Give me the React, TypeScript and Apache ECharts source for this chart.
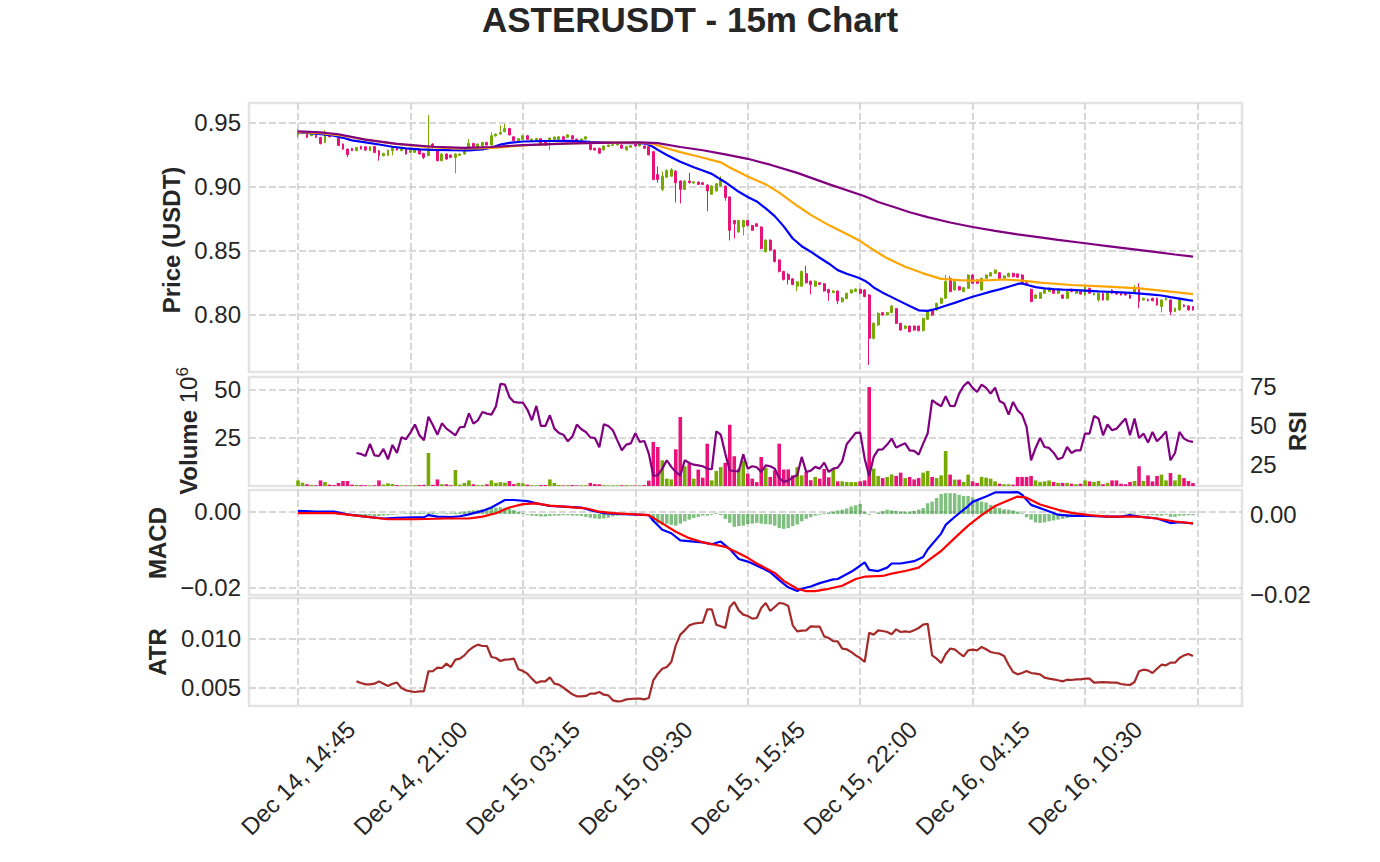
import React, { useEffect, useRef } from 'react';
import * as echarts from 'echarts';

const titleText = 'ASTERUSDT - 15m Chart';
const tickBars = [0, 25, 50, 75, 100, 125, 150, 175, 200];
const labelBars = [0, 25, 50, 75, 100, 125, 150, 175];
const tickLabels = ['Dec 14, 14:45', 'Dec 14, 21:00', 'Dec 15, 03:15', 'Dec 15, 09:30', 'Dec 15, 15:45', 'Dec 15, 22:00', 'Dec 16, 04:15', 'Dec 16, 10:30'];
const priceTicks = [0.8, 0.85, 0.9, 0.95];
const volTicks = [25, 50];
const rsiTicks = [25, 50, 75];
const macdTicks = [-0.02, 0];
const histTicks = [-0.02, 0];
const atrTicks = [0.005, 0.01];

// [open, high, low, close] per 15m bar
const ohlc = [
  [0.9405, 0.9450, 0.9386, 0.9432], [0.9418, 0.9438, 0.9410, 0.9431], [0.9411, 0.9415, 0.9380, 0.9385], [0.9398, 0.9416, 0.9395, 0.9411],
  [0.9403, 0.9408, 0.9380, 0.9385], [0.9385, 0.9390, 0.9330, 0.9338], [0.9346, 0.9442, 0.9340, 0.9411], [0.9411, 0.9415, 0.9385, 0.9390],
  [0.9411, 0.9414, 0.9395, 0.9398], [0.9380, 0.9385, 0.9318, 0.9322], [0.9333, 0.9338, 0.9288, 0.9294], [0.9294, 0.9298, 0.9230, 0.9250],
  [0.9299, 0.9302, 0.9278, 0.9281], [0.9281, 0.9310, 0.9278, 0.9307], [0.9315, 0.9320, 0.9290, 0.9294], [0.9312, 0.9315, 0.9280, 0.9286],
  [0.9281, 0.9315, 0.9278, 0.9312], [0.9315, 0.9318, 0.9262, 0.9268], [0.9281, 0.9285, 0.9203, 0.9242], [0.9242, 0.9265, 0.9238, 0.9260],
  [0.9245, 0.9290, 0.9240, 0.9286], [0.9281, 0.9312, 0.9245, 0.9307], [0.9307, 0.9310, 0.9282, 0.9286], [0.9281, 0.9298, 0.9278, 0.9294],
  [0.9294, 0.9298, 0.9250, 0.9255], [0.9268, 0.9290, 0.9265, 0.9286], [0.9268, 0.9298, 0.9265, 0.9294], [0.9294, 0.9298, 0.9250, 0.9255],
  [0.9260, 0.9265, 0.9216, 0.9229], [0.9242, 0.9560, 0.9240, 0.9294], [0.9333, 0.9340, 0.9300, 0.9307], [0.9281, 0.9290, 0.9198, 0.9203],
  [0.9203, 0.9262, 0.9198, 0.9255], [0.9255, 0.9262, 0.9210, 0.9216], [0.9247, 0.9250, 0.9225, 0.9229], [0.9229, 0.9262, 0.9104, 0.9255],
  [0.9245, 0.9260, 0.9240, 0.9255], [0.9255, 0.9290, 0.9250, 0.9286], [0.9300, 0.9372, 0.9295, 0.9338], [0.9338, 0.9342, 0.9308, 0.9312],
  [0.9312, 0.9338, 0.9308, 0.9333], [0.9320, 0.9350, 0.9316, 0.9346], [0.9346, 0.9350, 0.9320, 0.9325], [0.9325, 0.9424, 0.9320, 0.9398],
  [0.9398, 0.9415, 0.9390, 0.9411], [0.9411, 0.9480, 0.9408, 0.9424], [0.9430, 0.9490, 0.9425, 0.9455], [0.9455, 0.9460, 0.9400, 0.9405],
  [0.9390, 0.9395, 0.9355, 0.9360], [0.9360, 0.9380, 0.9355, 0.9375], [0.9370, 0.9405, 0.9365, 0.9398], [0.9398, 0.9402, 0.9365, 0.9370],
  [0.9360, 0.9378, 0.9355, 0.9372], [0.9362, 0.9382, 0.9358, 0.9377], [0.9375, 0.9380, 0.9318, 0.9323], [0.9349, 0.9352, 0.9318, 0.9323],
  [0.9362, 0.9385, 0.9285, 0.9380], [0.9370, 0.9392, 0.9365, 0.9388], [0.9370, 0.9395, 0.9365, 0.9390], [0.9390, 0.9398, 0.9365, 0.9370],
  [0.9385, 0.9410, 0.9380, 0.9405], [0.9398, 0.9402, 0.9368, 0.9372], [0.9372, 0.9375, 0.9355, 0.9359], [0.9362, 0.9378, 0.9358, 0.9372],
  [0.9372, 0.9395, 0.9368, 0.9390], [0.9330, 0.9336, 0.9285, 0.9290], [0.9300, 0.9305, 0.9282, 0.9287], [0.9300, 0.9305, 0.9255, 0.9262],
  [0.9287, 0.9322, 0.9282, 0.9318], [0.9313, 0.9330, 0.9310, 0.9326], [0.9322, 0.9333, 0.9318, 0.9328], [0.9326, 0.9340, 0.9322, 0.9335],
  [0.9326, 0.9330, 0.9296, 0.9300], [0.9287, 0.9318, 0.9282, 0.9313], [0.9308, 0.9325, 0.9305, 0.9321], [0.9330, 0.9335, 0.9312, 0.9318],
  [0.9318, 0.9336, 0.9315, 0.9332], [0.9318, 0.9322, 0.9296, 0.9300], [0.9313, 0.9318, 0.9245, 0.9249], [0.9274, 0.9280, 0.9050, 0.9056],
  [0.9095, 0.9159, 0.9031, 0.9056], [0.8979, 0.9120, 0.8966, 0.9082], [0.9074, 0.9135, 0.9070, 0.9126], [0.9082, 0.9145, 0.9078, 0.9133],
  [0.9121, 0.9130, 0.8877, 0.9031], [0.9044, 0.9050, 0.8869, 0.8979], [0.8979, 0.9050, 0.8975, 0.9044], [0.9044, 0.9108, 0.9025, 0.9031],
  [0.9028, 0.9042, 0.9022, 0.9038], [0.9036, 0.9040, 0.9014, 0.9018], [0.9031, 0.9035, 0.9014, 0.9018], [0.9013, 0.9018, 0.8808, 0.8967],
  [0.8941, 0.9010, 0.8935, 0.9005], [0.8967, 0.9028, 0.8962, 0.9023], [0.9005, 0.9082, 0.9000, 0.9049], [0.9005, 0.9010, 0.8890, 0.8915],
  [0.8920, 0.8925, 0.8580, 0.8659], [0.8736, 0.8740, 0.8595, 0.8710], [0.8646, 0.8740, 0.8640, 0.8736], [0.8685, 0.8742, 0.8620, 0.8736],
  [0.8736, 0.8740, 0.8690, 0.8697], [0.8697, 0.8702, 0.8655, 0.8659], [0.8710, 0.8715, 0.8685, 0.8690], [0.8685, 0.8690, 0.8510, 0.8518],
  [0.8492, 0.8590, 0.8485, 0.8582], [0.8582, 0.8588, 0.8498, 0.8505], [0.8505, 0.8510, 0.8408, 0.8415], [0.8428, 0.8432, 0.8330, 0.8338],
  [0.8338, 0.8342, 0.8268, 0.8274], [0.8313, 0.8326, 0.8236, 0.8274], [0.8280, 0.8284, 0.8230, 0.8236], [0.8223, 0.8262, 0.8184, 0.8256],
  [0.8223, 0.8345, 0.8218, 0.8338], [0.8320, 0.8382, 0.8244, 0.8249], [0.8262, 0.8266, 0.8159, 0.8236], [0.8223, 0.8268, 0.8218, 0.8262],
  [0.8249, 0.8254, 0.8230, 0.8236], [0.8241, 0.8246, 0.8180, 0.8185], [0.8197, 0.8202, 0.8108, 0.8172], [0.8172, 0.8190, 0.8168, 0.8185],
  [0.8185, 0.8190, 0.8082, 0.8108], [0.8100, 0.8138, 0.8095, 0.8130], [0.8125, 0.8172, 0.8120, 0.8167], [0.8170, 0.8198, 0.8166, 0.8193],
  [0.8182, 0.8205, 0.8178, 0.8200], [0.8198, 0.8203, 0.8162, 0.8167], [0.8193, 0.8198, 0.8136, 0.8141], [0.8154, 0.8160, 0.7607, 0.7815],
  [0.7815, 0.7940, 0.7805, 0.7932], [0.7919, 0.8018, 0.7912, 0.8011], [0.8016, 0.8022, 0.7992, 0.7998], [0.7998, 0.8020, 0.7994, 0.8016],
  [0.8016, 0.8076, 0.8012, 0.8068], [0.8047, 0.8052, 0.7928, 0.7932], [0.7932, 0.7937, 0.7875, 0.7880], [0.7893, 0.7916, 0.7888, 0.7911],
  [0.7911, 0.7915, 0.7862, 0.7867], [0.7911, 0.7915, 0.7875, 0.7880], [0.7911, 0.7915, 0.7870, 0.7875], [0.7875, 0.7976, 0.7870, 0.7971],
  [0.7964, 0.8028, 0.7960, 0.8023], [0.8036, 0.8040, 0.7992, 0.7997], [0.8036, 0.8094, 0.8032, 0.8089], [0.8089, 0.8132, 0.8085, 0.8128],
  [0.8128, 0.8310, 0.8124, 0.8258], [0.8284, 0.8300, 0.8175, 0.8180], [0.8193, 0.8262, 0.8188, 0.8258], [0.8219, 0.8224, 0.8188, 0.8193],
  [0.8180, 0.8216, 0.8176, 0.8211], [0.8206, 0.8315, 0.8202, 0.8310], [0.8310, 0.8315, 0.8240, 0.8245], [0.8271, 0.8276, 0.8240, 0.8245],
  [0.8193, 0.8289, 0.8188, 0.8284], [0.8284, 0.8315, 0.8280, 0.8310], [0.8302, 0.8333, 0.8298, 0.8328], [0.8323, 0.8354, 0.8318, 0.8349],
  [0.8328, 0.8333, 0.8279, 0.8284], [0.8284, 0.8307, 0.8280, 0.8302], [0.8297, 0.8328, 0.8293, 0.8323], [0.8323, 0.8328, 0.8292, 0.8297],
  [0.8318, 0.8323, 0.8287, 0.8292], [0.8310, 0.8315, 0.8245, 0.8250], [0.8250, 0.8255, 0.8227, 0.8232], [0.8198, 0.8203, 0.8097, 0.8102],
  [0.8128, 0.8159, 0.8124, 0.8154], [0.8128, 0.8177, 0.8124, 0.8172], [0.8167, 0.8198, 0.8163, 0.8193], [0.8180, 0.8211, 0.8176, 0.8206],
  [0.8193, 0.8198, 0.8162, 0.8167], [0.8167, 0.8193, 0.8163, 0.8188], [0.8154, 0.8159, 0.8123, 0.8128], [0.8128, 0.8185, 0.8124, 0.8180],
  [0.8198, 0.8203, 0.8175, 0.8180], [0.8167, 0.8193, 0.8163, 0.8188], [0.8180, 0.8185, 0.8156, 0.8161], [0.8154, 0.8224, 0.8150, 0.8219],
  [0.8206, 0.8211, 0.8162, 0.8167], [0.8154, 0.8172, 0.8150, 0.8167], [0.8115, 0.8172, 0.8102, 0.8167], [0.8167, 0.8172, 0.8110, 0.8115],
  [0.8115, 0.8185, 0.8110, 0.8180], [0.8193, 0.8198, 0.8162, 0.8167], [0.8180, 0.8185, 0.8156, 0.8161], [0.8167, 0.8172, 0.8149, 0.8154],
  [0.8167, 0.8172, 0.8149, 0.8154], [0.8154, 0.8159, 0.8123, 0.8128], [0.8167, 0.8232, 0.8163, 0.8206], [0.8206, 0.8245, 0.8050, 0.8102],
  [0.8115, 0.8133, 0.8110, 0.8128], [0.8120, 0.8125, 0.8104, 0.8109], [0.8128, 0.8133, 0.8104, 0.8109], [0.8128, 0.8133, 0.8071, 0.8076],
  [0.8063, 0.8120, 0.8018, 0.8115], [0.8115, 0.8133, 0.8110, 0.8128], [0.8115, 0.8120, 0.7998, 0.8024], [0.8024, 0.8055, 0.8020, 0.8050],
  [0.8037, 0.8133, 0.8032, 0.8128], [0.8076, 0.8081, 0.8058, 0.8063], [0.8068, 0.8073, 0.8032, 0.8037], [0.8063, 0.8068, 0.8032, 0.8037],
];

// volume, millions
const volumeM = [
  2.9, 1.7, 0.9, 0.5, 0.4, 2.9, 2.1, 0.7, 0.5, 1.6, 2.6, 2.6, 0.7, 0.5, 0.5, 0.4, 0.3, 0.4, 2.9, 0.7,
  1.4, 1.0, 0.5, 0.3, 0.3, 0.4, 0.4, 0.5, 0.6, 17.1, 0.6, 3.4, 0.9, 0.9, 0.4, 8.3, 0.7, 1.6, 2.9, 0.9,
  0.4, 0.5, 0.9, 2.9, 1.6, 2.0, 1.7, 2.6, 1.0, 1.6, 1.4, 0.7, 0.4, 0.3, 0.5, 0.5, 3.4, 1.6, 0.5, 0.3,
  0.4, 0.5, 0.3, 0.3, 0.4, 1.6, 1.0, 0.9, 0.4, 0.3, 0.3, 0.3, 0.4, 0.4, 0.3, 0.3, 0.3, 0.5, 2.8, 22.8,
  20.2, 13.3, 3.8, 3.4, 19.0, 35.7, 10.2, 11.6, 3.8, 8.5, 4.3, 21.9, 2.9, 7.8, 9.8, 12.0, 31.7, 15.4, 9.0, 13.3,
  6.4, 3.8, 2.0, 15.0, 9.5, 4.7, 8.1, 21.9, 8.5, 8.6, 5.5, 9.8, 5.5, 7.2, 3.0, 4.7, 3.8, 8.8, 4.5, 8.8,
  2.4, 2.4, 2.1, 2.0, 2.0, 2.4, 2.9, 51.2, 9.0, 5.2, 4.1, 4.7, 6.0, 5.2, 6.9, 4.1, 4.7, 3.4, 4.1, 6.9,
  7.8, 4.7, 4.1, 5.5, 18.1, 5.9, 3.3, 3.3, 2.1, 5.9, 2.4, 1.6, 4.7, 4.3, 3.8, 2.4, 1.2, 0.9, 0.9, 0.7,
  4.7, 4.7, 4.7, 5.2, 2.9, 2.1, 2.4, 2.9, 2.1, 1.6, 1.6, 1.6, 1.2, 0.9, 1.2, 2.9, 2.4, 2.1, 2.6, 0.9,
  1.6, 2.9, 2.9, 1.2, 0.9, 2.1, 2.6, 10.2, 2.6, 5.5, 2.4, 5.2, 5.9, 2.9, 6.7, 2.9, 5.9, 4.1, 2.6, 1.5,
];

const rsiStart = 13;
const rsi = [
  32.6, 32.0, 30.7, 38.3, 31.1, 30.7, 35.2, 28.6, 37.7, 32.6,
  42.5, 41.3, 45.5, 50.6, 43.8, 40.6, 55.6, 50.1, 44.2, 51.4,
  48.0, 45.9, 43.8, 48.9, 49.1, 57.7, 51.2, 53.3, 58.6, 57.5,
  56.9, 62.0, 76.3, 75.9, 68.1, 64.9, 64.5, 64.5, 60.1, 53.3,
  62.4, 49.7, 49.7, 56.5, 48.0, 45.3, 44.2, 40.0, 43.0, 50.6,
  47.6, 45.9, 42.5, 42.1, 36.2, 50.8, 49.7, 47.0, 40.6, 34.3,
  37.9, 38.7, 45.1, 39.6, 40.2, 32.2, 18.1, 18.5, 22.7, 28.0,
  23.8, 20.6, 18.3, 28.0, 26.3, 25.2, 24.8, 24.2, 22.7, 22.3,
  46.3, 44.2, 32.2, 21.6, 21.2, 21.0, 31.8, 22.7, 24.2, 23.6,
  20.6, 24.8, 24.2, 22.7, 16.8, 14.3, 15.1, 17.2, 18.5, 30.1,
  20.6, 21.4, 23.8, 22.7, 26.5, 20.6, 22.7, 23.3, 27.3, 38.1,
  41.7, 45.3, 45.5, 29.0, 18.1, 30.1, 34.7, 34.9, 37.9, 41.7,
  36.0, 37.5, 38.7, 34.3, 33.9, 31.6, 38.5, 44.9, 66.0, 63.9,
  62.2, 68.5, 62.4, 62.2, 70.2, 75.0, 77.6, 73.8, 71.2, 75.9,
  73.8, 70.2, 74.0, 65.5, 63.9, 56.9, 64.9, 59.6, 56.9, 49.1,
  28.0, 35.8, 42.1, 36.4, 35.8, 32.8, 28.6, 29.7, 36.4, 32.6,
  34.3, 34.3, 44.9, 44.9, 56.0, 54.4, 43.8, 50.6, 47.0, 48.0,
  51.2, 54.4, 43.8, 54.4, 42.1, 44.9, 39.2, 45.9, 40.0, 42.8,
  46.3, 28.0, 32.6, 45.9, 41.7, 40.2, 39.6,
];

const atrStart = 13;
const atr = [
  0.00565, 0.00548, 0.00534, 0.00534, 0.00541, 0.00565, 0.00541, 0.00517, 0.00541, 0.00552,
  0.00497, 0.00473, 0.00463, 0.00456, 0.00463, 0.00463, 0.00668, 0.00671, 0.00706, 0.00702,
  0.00747, 0.00712, 0.00788, 0.00798, 0.00832, 0.00884, 0.00918, 0.00942, 0.00928, 0.00928,
  0.00815, 0.00805, 0.00774, 0.00788, 0.00791, 0.00798, 0.00689, 0.00671, 0.00644, 0.00593,
  0.00548, 0.00565, 0.00565, 0.00606, 0.00541, 0.00531, 0.00500, 0.00466, 0.00432, 0.00411,
  0.00411, 0.00415, 0.00439, 0.00439, 0.00456, 0.00428, 0.00421, 0.00370, 0.00360, 0.00363,
  0.00380, 0.00384, 0.00387, 0.00387, 0.00380, 0.00394, 0.00576, 0.00644, 0.00695, 0.00712,
  0.00764, 0.00935, 0.01045, 0.01089, 0.01140, 0.01157, 0.01164, 0.01168, 0.01305, 0.01305,
  0.01147, 0.01130, 0.01113, 0.01329, 0.01380, 0.01294, 0.01250, 0.01236, 0.01209, 0.01216,
  0.01318, 0.01370, 0.01288, 0.01329, 0.01370, 0.01363, 0.01339, 0.01140, 0.01079, 0.01086,
  0.01089, 0.01130, 0.01127, 0.01127, 0.01027, 0.01010, 0.00979, 0.00976, 0.00901, 0.00894,
  0.00867, 0.00832, 0.00805, 0.00764, 0.01065, 0.01045, 0.01089, 0.01082, 0.01072, 0.01048,
  0.01099, 0.01072, 0.01079, 0.01072, 0.01089, 0.01113, 0.01147, 0.01157, 0.00832, 0.00798,
  0.00754, 0.00843, 0.00901, 0.00894, 0.00856, 0.00822, 0.00884, 0.00890, 0.00884, 0.00918,
  0.00894, 0.00867, 0.00856, 0.00849, 0.00825, 0.00736, 0.00661, 0.00637, 0.00651, 0.00671,
  0.00651, 0.00644, 0.00637, 0.00603, 0.00593, 0.00586, 0.00576, 0.00565, 0.00582, 0.00579,
  0.00586, 0.00586, 0.00593, 0.00593, 0.00552, 0.00555, 0.00558, 0.00555, 0.00552, 0.00552,
  0.00538, 0.00531, 0.00528, 0.00558, 0.00668, 0.00685, 0.00678, 0.00651, 0.00695, 0.00736,
  0.00730, 0.00757, 0.00757, 0.00805, 0.00832, 0.00846, 0.00825,
];

// moving averages read at sampled bars: [bar, price]
const maFast = [
  [0, 0.9424], [4, 0.9415], [8, 0.9398], [10, 0.9382], [12, 0.9362], [15, 0.9346], [18, 0.9330], [21, 0.9312], [24, 0.9300], [27, 0.9292],
  [30, 0.9288], [34, 0.9285], [38, 0.9284], [41, 0.9292], [43, 0.9305], [45, 0.9330], [47, 0.9342], [50, 0.9353], [55, 0.9357], [60, 0.9358],
  [65, 0.9350], [70, 0.9343], [75, 0.9340], [77, 0.9338], [78, 0.9328], [79, 0.9310], [80, 0.9288], [82, 0.9248], [85, 0.9195], [88, 0.9152],
  [90, 0.9126], [92, 0.9100], [95, 0.9035], [98, 0.8960], [100, 0.8920], [102, 0.8885], [104, 0.8830], [106, 0.8770], [108, 0.8690], [110, 0.8595],
  [112, 0.8535], [114, 0.8492], [116, 0.8445], [118, 0.8400], [120, 0.8348], [122, 0.8320], [124, 0.8296], [125, 0.8282], [126, 0.8266], [127, 0.8242],
  [128, 0.8212], [130, 0.8172], [132, 0.8137], [134, 0.8102], [136, 0.8067], [138, 0.8034], [140, 0.8030], [142, 0.8046], [144, 0.8070], [146, 0.8092],
  [148, 0.8116], [150, 0.8140], [152, 0.8160], [154, 0.8180], [156, 0.8198], [158, 0.8218], [160, 0.8240], [161, 0.8244], [162, 0.8234], [164, 0.8215],
  [166, 0.8205], [168, 0.8200], [170, 0.8196], [172, 0.8193], [175, 0.8188], [178, 0.8182], [180, 0.8179], [183, 0.8174], [186, 0.8168], [188, 0.8163],
  [190, 0.8157], [192, 0.8150], [194, 0.8137], [196, 0.8125], [198, 0.8113], [199, 0.8109],
];
const maMid = [
  [0, 0.9426], [5, 0.9418], [10, 0.9398], [15, 0.9368], [20, 0.9342], [25, 0.9322], [30, 0.9308], [35, 0.9300], [40, 0.9300], [45, 0.9308],
  [50, 0.9322], [57, 0.9335], [65, 0.9342], [72, 0.9344], [77, 0.9342], [79, 0.9335], [80, 0.9322], [82, 0.9300], [85, 0.9270], [89, 0.9236],
  [94, 0.9190], [96, 0.9150], [100, 0.9080], [104, 0.9018], [107, 0.8954], [111, 0.8851], [114, 0.8780], [118, 0.8700], [122, 0.8630], [125, 0.8575],
  [128, 0.8505], [131, 0.8440], [135, 0.8375], [139, 0.8323], [143, 0.8280], [147, 0.8270], [150, 0.8266], [154, 0.8270], [157, 0.8275], [161, 0.8266],
  [165, 0.8250], [172, 0.8232], [180, 0.8219], [187, 0.8206], [194, 0.8180], [199, 0.8161],
];
const maSlow = [
  [0, 0.9432], [5, 0.9425], [9, 0.9410], [15, 0.9368], [22, 0.9335], [30, 0.9312], [37, 0.9304], [43, 0.9310], [50, 0.9325], [61, 0.9338],
  [70, 0.9345], [76, 0.9347], [80, 0.9340], [85, 0.9310], [90, 0.9285], [95, 0.9252], [100, 0.9218], [105, 0.9172], [111, 0.9108], [118, 0.9020],
  [126, 0.8925], [129, 0.8880], [133, 0.8835], [136, 0.8800], [140, 0.8762], [145, 0.8720], [150, 0.8685], [155, 0.8655], [160, 0.8628], [165, 0.8604],
  [169, 0.8584], [175, 0.8558], [180, 0.8536], [185, 0.8514], [190, 0.8492], [195, 0.8470], [199, 0.8453],
];

const macdLine = [
  [0, 0.0002], [4, 0], [8, 0], [11, -0.0007], [15, -0.0013], [19, -0.0018], [22, -0.0016], [26, -0.0015], [28, -0.0015], [29, -0.0009],
  [31, -0.0013], [34, -0.0014], [36, -0.0012], [38, -0.0007], [41, 0.0002], [43, 0.0011], [46, 0.0031], [48, 0.0031], [51, 0.0028], [53, 0.0022],
  [56, 0.0015], [60, 0.0013], [63, 0.0011], [65, 0.0004], [68, -0.0004], [71, -0.0006], [74, -0.0007], [78, -0.0009], [79, -0.0024], [81, -0.0048],
  [83, -0.0057], [85, -0.0076], [88, -0.0079], [90, -0.0081], [92, -0.0086], [94, -0.0079], [96, -0.0099], [98, -0.0125], [100, -0.0132], [101, -0.0137],
  [103, -0.0148], [105, -0.0160], [107, -0.0181], [109, -0.0200], [111, -0.0210], [112, -0.0204], [114, -0.0198], [116, -0.0189], [119, -0.0179], [120, -0.0178],
  [123, -0.0159], [125, -0.0143], [126, -0.0134], [127, -0.0154], [129, -0.0157], [131, -0.0148], [132, -0.0137], [134, -0.0137], [137, -0.0131], [139, -0.0120],
  [140, -0.0100], [143, -0.0058], [144, -0.0035], [146, -0.0014], [149, 0.0015], [150, 0.0026], [153, 0.0040], [155, 0.0051], [158, 0.0051], [160, 0.0052],
  [161, 0.0045], [163, 0.0018], [166, 0.0005], [169, -0.0008], [172, -0.0011], [176, -0.0011], [180, -0.0013], [183, -0.0013], [185, -0.0009], [187, -0.0013],
  [191, -0.0018], [194, -0.0030], [196, -0.0028], [199, -0.0031],
];
const signalLine = [
  [0, -0.0004], [8, -0.0004], [15, -0.0013], [20, -0.0020], [26, -0.0020], [33, -0.0018], [38, -0.0018], [41, -0.0013], [44, -0.0004], [47, 0.0011],
  [50, 0.0020], [53, 0.0022], [56, 0.0016], [60, 0.0013], [64, 0.0009], [67, 0], [70, -0.0004], [75, -0.0007], [78, -0.0009], [81, -0.0031],
  [84, -0.0053], [87, -0.0070], [90, -0.0081], [93, -0.0088], [95, -0.0093], [98, -0.0110], [100, -0.0122], [102, -0.0137], [106, -0.0162], [108, -0.0183],
  [111, -0.0204], [113, -0.0210], [115, -0.0210], [118, -0.0204], [121, -0.0196], [124, -0.0178], [126, -0.0172], [130, -0.0170], [132, -0.0164], [135, -0.0157],
  [138, -0.0148], [140, -0.0130], [143, -0.0104], [146, -0.0070], [149, -0.0037], [152, -0.0009], [155, 0.0015], [158, 0.0030], [160, 0.0040], [162, 0.0037],
  [165, 0.0019], [169, 0.0005], [172, -0.0003], [176, -0.0009], [180, -0.0013], [183, -0.0013], [187, -0.0013], [191, -0.0018], [195, -0.0026], [199, -0.0031],
];
const macdHist = [
  0, 0, 0, 0, 0, 0.0001, 0.0001, 0, 0, -0.0001, -0.0002,
  -0.0003, -0.0004, -0.0004, -0.0005, -0.0005, -0.0004, -0.0005, -0.0005, -0.0004, -0.0003, -0.0002,
  -0.0001, 0.0001, 0.0002, 0.0002, 0.0003, 0.0003, 0.0002, 0.0004, 0.0003, 0.0002, 0.0001,
  0.0002, 0.0002, 0.0003, 0.0004, 0.0006, 0.0008, 0.0009, 0.0010, 0.0012, 0.0014, 0.0015,
  0.0016, 0.0017, 0.0016, 0.0013, 0.0010, 0.0006, 0.0002, -0.0002, -0.0004, -0.0005, -0.0006,
  -0.0006, -0.0005, -0.0004, -0.0004, -0.0003, -0.0003, -0.0004, -0.0004, -0.0005, -0.0007, -0.0009,
  -0.0011, -0.0012, -0.0011, -0.0009, -0.0006, -0.0004, -0.0003, -0.0002, -0.0002, -0.0001, -0.0001,
  -0.0001, -0.0002, -0.0018, -0.0024, -0.0027, -0.0024, -0.0027, -0.0029, -0.0024, -0.0018, -0.0014,
  -0.0010, -0.0007, -0.0004, -0.0004, -0.0002, 0.0002, -0.0003, -0.0012, -0.0022, -0.0032, -0.0030,
  -0.0029, -0.0025, -0.0024, -0.0022, -0.0024, -0.0025, -0.0026, -0.0029, -0.0035, -0.0037, -0.0035,
  -0.0030, -0.0026, -0.0018, -0.0012, -0.0008, -0.0004, -0.0002, 0.0002, 0.0004, 0.0006, 0.0009,
  0.0011, 0.0014, 0.0019, 0.0022, 0.0025, 0.0006, -0.0002, 0.0000, 0.0004, 0.0007, 0.0011,
  0.0009, 0.0008, 0.0006, 0.0006, 0.0006, 0.0008, 0.0011, 0.0015, 0.0027, 0.0031, 0.0040,
  0.0050, 0.0052, 0.0052, 0.0052, 0.0048, 0.0045, 0.0045, 0.0042, 0.0035, 0.0031, 0.0029,
  0.0023, 0.0017, 0.0015, 0.0012, 0.0011, 0.0009, 0.0006, 0.0002, -0.0008, -0.0014, -0.0021,
  -0.0022, -0.0021, -0.0018, -0.0016, -0.0014, -0.0012, -0.0010, -0.0007, -0.0006, -0.0004, -0.0002,
  -0.0001, 0.0000, 0.0001, 0.0001, -0.0001, 0.0000, 0.0000, 0.0000, 0.0001, 0.0002, 0.0002,
  -0.0001, -0.0002, -0.0003, -0.0003, -0.0004, -0.0004, -0.0002, -0.0007, -0.0007, -0.0004, -0.0004, -0.0003, -0.0003,
];

const UP = '#77aa00';
const DOWN = '#e8127a';
const FONT = '"Liberation Sans", Arial, Helvetica, sans-serif';
const INK = '#262626';

function fmtSigned(v: number, d: number) {
  if (Math.abs(v) < 1e-12) return (0).toFixed(d);
  return (v < 0 ? '\u2212' : '') + Math.abs(v).toFixed(d);
}

export default function App() {
  const ref = useRef<HTMLDivElement>(null);
  useEffect(() => {
    if (!ref.current) return;
    const chart = echarts.init(ref.current, undefined, { renderer: 'svg' });
    const gridLine = { show: true, lineStyle: { color: '#cccccc', width: 1.5, type: [7, 3] } };
    const panels = [
      { top: 103, height: 269 },
      { top: 377, height: 109 },
      { top: 490, height: 105 },
      { top: 598, height: 108 },
    ];
    const grids = panels.map((p) => ({
      left: 249, width: 993, top: p.top, height: p.height,
      show: true, borderColor: '#e3e3e3', borderWidth: 2.5, backgroundColor: '#ffffff',
      containLabel: false, outerBoundsMode: 'none',
    }));
    const xAxes = panels.map((_, gi) => ({
      type: 'value', gridIndex: gi, min: -10.9, max: 209.9,
      axisLine: { show: false },
      axisTick: { show: false, customValues: tickBars },
      splitLine: gridLine,
      axisLabel: gi === 3
        ? {
            show: true, customValues: labelBars, rotate: 45, align: 'center', verticalAlign: 'middle',
            margin: 72, fontSize: 24, color: INK, fontFamily: FONT,
            formatter: (v: number) => tickLabels[Math.round(v / 25)] || '',
          }
        : { show: false },
    }));
    const yLabel = (vals: number[], fmt: (v: number) => string) => ({
      show: true, customValues: vals, formatter: fmt, fontSize: 24, color: INK, fontFamily: FONT, margin: 8,
    });
    const yBase = { type: 'value', axisLine: { show: false } };
    const yAxes = [
      { ...yBase, gridIndex: 0, min: 0.7552, max: 0.9654, axisTick: { show: false, customValues: priceTicks }, splitLine: gridLine, axisLabel: yLabel(priceTicks, (v) => v.toFixed(2)) },
      { ...yBase, gridIndex: 1, min: 0, max: 56.4, axisTick: { show: false, customValues: volTicks }, splitLine: gridLine, axisLabel: yLabel(volTicks, (v) => String(Math.round(v))) },
      { ...yBase, gridIndex: 1, position: 'right', min: 11.7, max: 80.7, axisTick: { show: false, customValues: rsiTicks }, splitLine: { show: false }, axisLabel: yLabel(rsiTicks, (v) => String(Math.round(v))) },
      { ...yBase, gridIndex: 2, min: -0.02204, max: 0.00574, axisTick: { show: false, customValues: macdTicks }, splitLine: gridLine, axisLabel: yLabel(macdTicks, (v) => fmtSigned(v, 2)) },
      { ...yBase, gridIndex: 2, position: 'right', min: -0.0202, max: 0.006, axisTick: { show: false, customValues: histTicks }, splitLine: { show: false }, axisLabel: yLabel(histTicks, (v) => fmtSigned(v, 2)) },
      { ...yBase, gridIndex: 3, min: 0.00312, max: 0.01421, axisTick: { show: false, customValues: atrTicks }, splitLine: gridLine, axisLabel: yLabel(atrTicks, (v) => v.toFixed(3)) },
    ];
    const lineS = (data: number[][], color: string, xi: number, yi: number, z = 3) => ({
      type: 'line', data, xAxisIndex: xi, yAxisIndex: yi, showSymbol: false, symbol: 'none',
      lineStyle: { color, width: 2.2 }, z, silent: true,
    });
    const candleData = ohlc.map((d, i) => [i, d[0], d[3], d[2], d[1]]);
    const volData = volumeM.map((v, i) => ({
      value: [i, v], itemStyle: { color: ohlc[i][3] >= ohlc[i][0] ? UP : DOWN },
    }));
    const option = {
      animation: false,
      backgroundColor: '#ffffff',
      textStyle: { fontFamily: FONT },
      grid: grids,
      xAxis: xAxes,
      yAxis: yAxes,
      series: [
        {
          type: 'candlestick', xAxisIndex: 0, yAxisIndex: 0, data: candleData,
          encode: { x: 0, y: [1, 2, 3, 4] }, barWidth: 2.4,
          itemStyle: { color: UP, color0: DOWN, borderColor: UP, borderColor0: DOWN, borderWidth: 1 },
          z: 2, silent: true,
        },
        lineS(maFast, '#0000ff', 0, 0),
        lineS(maMid, '#ffa500', 0, 0),
        lineS(maSlow, '#800080', 0, 0),
        { type: 'bar', xAxisIndex: 1, yAxisIndex: 1, data: volData, barWidth: 3.6, z: 2, silent: true },
        lineS(rsi.map((v, k) => [k + rsiStart, v]), '#800080', 1, 2),
        { type: 'bar', xAxisIndex: 2, yAxisIndex: 4, data: macdHist.map((v, i) => [i, v]), barWidth: 3.4, itemStyle: { color: 'rgba(0,128,0,0.5)' }, z: 2, silent: true },
        lineS(macdLine, '#0000ff', 2, 3),
        lineS(signalLine, '#ff0000', 2, 3, 4),
        lineS(atr.map((v, k) => [k + atrStart, v]), '#a52a2a', 3, 5),
      ],
      graphic: [
        { type: 'text', x: 690, y: 19, style: { text: titleText, fill: INK, font: `bold 35px ${FONT}`, align: 'center', verticalAlign: 'middle', textAlign: 'center', textVerticalAlign: 'middle' } },
        { type: 'text', x: 171, y: 240, rotation: Math.PI / 2, style: { text: 'Price (USDT)', fill: INK, font: `bold 24px ${FONT}`, align: 'center', verticalAlign: 'middle', textAlign: 'center', textVerticalAlign: 'middle' } },
        {
          type: 'text', x: 188, y: 431, rotation: Math.PI / 2,
          style: {
            text: '{b|Volume}  {n|10}{s|6}', fill: INK, align: 'center', verticalAlign: 'middle', textAlign: 'center', textVerticalAlign: 'middle',
            rich: {
              b: { fontWeight: 'bold', fontSize: 24, fontFamily: FONT, fill: INK, color: INK },
              n: { fontSize: 24, fontFamily: FONT, fill: INK, color: INK },
              s: { fontSize: 17, fontFamily: FONT, fill: INK, color: INK, padding: [0, 0, 12, 0] },
            },
          },
        },
        { type: 'text', x: 157, y: 543, rotation: Math.PI / 2, style: { text: 'MACD', fill: INK, font: `bold 24px ${FONT}`, align: 'center', verticalAlign: 'middle', textAlign: 'center', textVerticalAlign: 'middle' } },
        { type: 'text', x: 157, y: 652, rotation: Math.PI / 2, style: { text: 'ATR', fill: INK, font: `bold 24px ${FONT}`, align: 'center', verticalAlign: 'middle', textAlign: 'center', textVerticalAlign: 'middle' } },
        { type: 'text', x: 1297, y: 431, rotation: Math.PI / 2, style: { text: 'RSI', fill: INK, font: `bold 24px ${FONT}`, align: 'center', verticalAlign: 'middle', textAlign: 'center', textVerticalAlign: 'middle' } },
      ],
    };
    chart.setOption(option as any);
    return () => chart.dispose();
  }, []);
  return (
    <div
      ref={ref}
      style={{ position: 'absolute', left: 0, top: 0, width: 1380, height: 862, background: '#ffffff' }}
    />
  );
}
